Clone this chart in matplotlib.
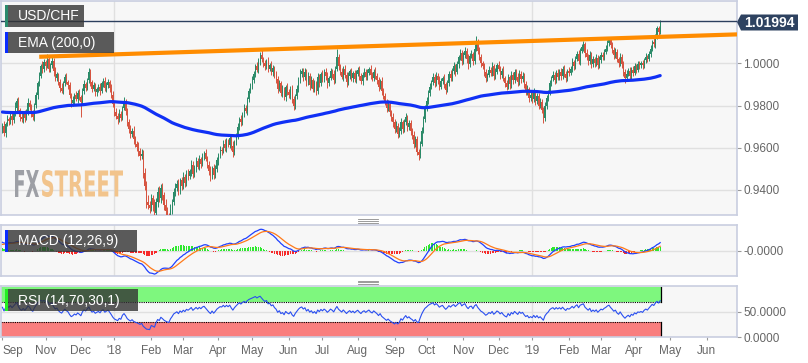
import numpy as np
import pandas as pd
import matplotlib
matplotlib.use('Agg')
import matplotlib.pyplot as plt
from matplotlib.patches import Rectangle, Polygon, PathPatch
from matplotlib.textpath import TextPath
from matplotlib.font_manager import FontProperties
from matplotlib.transforms import Affine2D
from matplotlib.lines import Line2D

plt.rcParams['font.family'] = ['Liberation Sans', 'DejaVu Sans']

W, H = 808, 363

# USD/CHF daily closes (x 10000), 25 Sep 2017 .. 23 Apr 2019
closes = [
    9705, 9668, 9712, 9738, 9725, 9752, 9731, 9760, 9790, 9822, 9780, 9748, 9735, 9762, 9741, 9770, 9812, 9795, 9760, 9745,
    9802, 9850, 9905, 9940, 9985, 9972, 10005, 9988, 10020, 9975, 9990, 10010, 9962, 9930, 9948, 9910, 9885, 9870, 9905, 9935,
    9912, 9895, 9850, 9812, 9825, 9848, 9832, 9860, 9840, 9815, 9870, 9902, 9885, 9920, 9958, 9912, 9880, 9895, 9862, 9878,
    9890, 9870, 9905, 9915, 9882, 9898, 9912, 9885, 9850, 9805, 9770, 9752, 9735, 9760, 9742, 9790, 9812, 9775, 9720, 9690,
    9665, 9680, 9640, 9620, 9605, 9585, 9560, 9570, 9480, 9420, 9345, 9330, 9315, 9360, 9330, 9290, 9345, 9390, 9360, 9410,
    9375, 9330, 9300, 9275, 9260, 9310, 9345, 9390, 9410, 9430, 9395, 9445, 9420, 9460, 9435, 9480, 9465, 9490, 9520, 9475,
    9505, 9535, 9510, 9545, 9525, 9560, 9575, 9548, 9520, 9490, 9465, 9505, 9470, 9500, 9540, 9565, 9590, 9585, 9620, 9600,
    9632, 9615, 9645, 9610, 9580, 9625, 9660, 9700, 9735, 9720, 9760, 9790, 9775, 9830, 9870, 9895, 9920, 9950, 9985, 9970,
    10010, 10040, 10020, 10000, 9985, 10012, 9975, 9990, 9960, 9978, 9945, 9925, 9880, 9905, 9860, 9875, 9840, 9890, 9865, 9850,
    9880, 9830, 9800, 9845, 9880, 9920, 9950, 9965, 9935, 9960, 9910, 9940, 9895, 9920, 9880, 9905, 9870, 9935, 9905, 9950,
    9925, 9960, 9940, 9905, 9930, 9965, 9948, 9920, 9975, 10030, 9985, 9960, 9935, 9975, 9945, 9910, 9940, 9962, 9930, 9955,
    9925, 9950, 9970, 9940, 9915, 9945, 9960, 9935, 9955, 9972, 9945, 9930, 9960, 9940, 9920, 9890, 9915, 9870, 9845, 9820,
    9790, 9805, 9770, 9745, 9720, 9690, 9705, 9665, 9680, 9720, 9690, 9720, 9745, 9700, 9715, 9680, 9660, 9620, 9640, 9580,
    9565, 9620, 9680, 9735, 9790, 9820, 9860, 9890, 9910, 9935, 9905, 9940, 9920, 9890, 9915, 9930, 9900, 9875, 9905, 9950,
    9930, 9965, 9985, 9960, 9995, 10030, 10050, 10010, 10040, 10060, 10020, 9995, 10035, 10045, 10010, 10070, 10100, 10060, 10030, 10000,
    9985, 9960, 9930, 9945, 9970, 9955, 9985, 9940, 9960, 9990, 9975, 9945, 9965, 9930, 9905, 9890, 9935, 9900, 9945, 9920,
    9960, 9935, 9910, 9950, 9925, 9940, 9900, 9865, 9880, 9835, 9850, 9830, 9860, 9820, 9845, 9800, 9815, 9780, 9740, 9800,
    9835, 9860, 9905, 9930, 9945, 9920, 9955, 9935, 9960, 9940, 9975, 9950, 9930, 9965, 9955, 9975, 10005, 9985, 10020, 10045,
    10010, 10060, 10075, 10090, 10050, 10030, 10010, 10040, 9995, 10020, 10000, 10025, 9990, 10015, 10040, 10030, 10055, 10070, 10095, 10110,
    10085, 10065, 10040, 10055, 10020, 10000, 10030, 9995, 9960, 9930, 9950, 9965, 9940, 9970, 9955, 9985, 9970, 9995, 9990, 10000,
    9990, 10015, 10030, 10020, 10045, 10070, 10100, 10090, 10130, 10165, 10150, 10199.4,
]
first_open = 9690

# wick lengths in pips above / below the candle body
up_wick = [
    14, 22, 11, 18, 9, 20, 13, 16, 25, 12, 18, 10, 21, 8, 17, 13, 24, 15, 11, 19,
    9, 16, 12, 21, 14, 26, 17, 10, 24, 13, 11, 19, 15, 22, 12, 8, 17, 20, 13, 16,
    21, 11, 15, 9, 18, 13, 20, 12, 16, 10, 14, 19, 11, 12, 19, 16, 10, 18, 14, 12,
    13, 17, 10, 15, 21, 12, 14, 9, 16, 20, 13, 18, 11, 22, 15, 10, 28, 17, 12, 15,
    18, 14, 22, 16, 12, 20, 15, 24, 19, 26, 21, 30, 17, 23, 18, 27, 16, 22, 29, 20,
    24, 17, 28, 20, 15, 22, 13, 19, 25, 16, 21, 12, 18, 23, 14, 17, 20, 11, 24, 15,
    12, 19, 16, 22, 13, 17, 10, 21, 15, 18, 24, 11, 16, 20, 14, 9, 19, 13, 17, 22,
    15, 11, 18, 14, 20, 12, 9, 16, 13, 19, 11, 17, 14, 10, 15, 12, 18, 13, 11, 20,
    16, 14, 21, 12, 18, 10, 17, 13, 22, 15, 11, 19, 14, 16, 12, 20, 13, 9, 17, 15,
    12, 18, 14, 10, 16, 13, 21, 15, 11, 19, 14, 17, 12, 20, 10, 16, 13, 18, 15, 11,
    19, 13, 16, 21, 12, 15, 10, 18, 14, 37, 16, 12, 19, 11, 17, 14, 20, 13, 15, 10,
    14, 17, 11, 19, 15, 12, 20, 13, 16, 10, 18, 14, 11, 21, 15, 17, 12, 19, 14, 16,
    13, 20, 15, 11, 18, 14, 22, 12, 17, 19, 13, 16, 21, 10, 15, 18, 12, 20, 14, 17,
    15, 11, 18, 14, 12, 20, 13, 16, 10, 19, 14, 17, 12, 21, 15, 11, 18, 13, 16, 12,
    17, 14, 20, 12, 16, 11, 19, 15, 13, 18, 12, 22, 14, 16, 10, 20, 28, 13, 17, 15,
    12, 18, 15, 11, 17, 13, 20, 14, 16, 10, 19, 13, 15, 21, 12, 17, 14, 11, 18, 16,
    14, 11, 19, 16, 13, 20, 12, 17, 15, 10, 18, 14, 21, 12, 16, 13, 19, 15, 11, 17,
    16, 13, 18, 12, 20, 14, 11, 17, 15, 19, 12, 16, 13, 10, 18, 14, 21, 12, 16, 13,
    19, 12, 15, 16, 13, 18, 14, 20, 12, 16, 11, 17, 14, 19, 13, 15, 12, 18, 14, 16,
    13, 17, 12, 19, 15, 11, 18, 14, 16, 12, 20, 13, 17, 11, 15, 18, 12, 16, 14, 10,
    15, 12, 17, 11, 14, 16, 12, 18, 10, 13, 11, 6,
]
dn_wick = [
    20, 14, 18, 11, 16, 12, 22, 15, 10, 17, 13, 19, 12, 16, 21, 11, 14, 18, 13, 15,
    16, 12, 19, 14, 10, 17, 13, 21, 11, 18, 15, 12, 20, 14, 16, 13, 22, 11, 17, 14,
    12, 18, 15, 21, 13, 16, 11, 19, 14, 70, 12, 17, 15, 11, 13, 20, 14, 12, 18, 16,
    14, 19, 12, 16, 11, 17, 13, 20, 15, 12, 18, 14, 21, 13, 16, 11, 12, 19, 15, 22,
    17, 13, 20, 15, 19, 22, 16, 14, 25, 20, 28, 18, 24, 16, 30, 22, 19, 25, 17, 21,
    20, 26, 18, 23, 30, 17, 22, 15, 19, 14, 21, 16, 18, 13, 20, 15, 17, 12, 22, 16,
    14, 18, 12, 16, 20, 13, 17, 11, 15, 19, 22, 14, 18, 12, 16, 20, 13, 17, 11, 15,
    18, 13, 16, 20, 22, 15, 12, 17, 14, 19, 13, 16, 11, 18, 14, 12, 17, 13, 15, 11,
    14, 17, 12, 16, 19, 13, 18, 11, 15, 20, 14, 17, 21, 13, 16, 19, 12, 18, 14, 16,
    17, 20, 23, 15, 12, 14, 11, 16, 19, 13, 17, 15, 20, 12, 18, 14, 21, 13, 16, 12,
    15, 12, 18, 20, 14, 11, 16, 19, 13, 12, 17, 14, 11, 18, 15, 21, 12, 16, 14, 17,
    13, 16, 12, 18, 14, 17, 11, 15, 13, 12, 19, 14, 16, 12, 17, 20, 14, 18, 16, 19,
    21, 15, 18, 17, 20, 22, 14, 19, 16, 13, 18, 15, 12, 20, 16, 19, 17, 22, 14, 16,
    23, 14, 12, 11, 13, 16, 12, 15, 14, 11, 17, 13, 16, 18, 12, 14, 17, 19, 13, 11,
    16, 12, 14, 18, 11, 15, 13, 19, 12, 14, 17, 20, 13, 11, 16, 12, 14, 18, 15, 17,
    14, 18, 20, 13, 12, 16, 14, 19, 15, 11, 13, 18, 14, 16, 19, 17, 12, 20, 15, 18,
    12, 16, 19, 14, 17, 13, 18, 15, 16, 20, 14, 17, 13, 19, 15, 18, 14, 17, 24, 12,
    15, 13, 11, 14, 12, 17, 13, 16, 14, 18, 12, 15, 19, 13, 16, 12, 14, 17, 13, 11,
    14, 16, 12, 15, 18, 13, 17, 14, 19, 13, 16, 12, 18, 14, 12, 15, 13, 11, 14, 12,
    13, 15, 18, 14, 16, 19, 13, 17, 20, 21, 15, 12, 17, 13, 16, 12, 14, 11, 15, 13,
    16, 12, 14, 13, 11, 15, 12, 13, 16, 14, 17, 13,
]
if not (len(closes) == len(up_wick) == len(dn_wick)):
    raise SystemExit(f"lengths {len(closes)} {len(up_wick)} {len(dn_wick)}")

# indicator state carried in from before the visible window
ema200_seed = 0.9770
ema12_seed, ema26_seed, signal_seed = 0.9675, 0.9630, 0.0030
rsi_gain_seed, rsi_loss_seed = 0.0012, 0.0009

# resistance line drawn on the chart (bar index, price)
trend_x = [23, 459]
trend_y = [1.0031, 1.0137]
last_price = 1.01994

tick_starts = ['2017-09-25', '2017-11-01', '2017-12-01', '2018-01-01', '2018-02-01', '2018-03-01',
               '2018-04-01', '2018-05-01', '2018-06-01', '2018-07-01', '2018-08-01', '2018-09-01',
               '2018-10-01', '2018-11-01', '2018-12-01', '2019-01-01', '2019-02-01', '2019-03-01',
               '2019-04-01', '2019-05-01', '2019-06-01']
tick_labels = ['Sep', 'Nov', 'Dec', "'18", 'Feb', 'Mar', 'Apr', 'May', 'Jun', 'Jul', 'Aug', 'Sep',
               'Oct', 'Nov', 'Dec', "'19", 'Feb', 'Mar', 'Apr', 'May', 'Jun']
year_starts = ['2018-01-01', '2019-01-01']

# ---- derived series
c = np.array(closes, dtype=float) / 1e4
o = np.r_[first_open / 1e4, c[:-1]]
hi = np.maximum(o, c) + np.array(up_wick) / 1e4
lo = np.minimum(o, c) - np.array(dn_wick) / 1e4
x = np.arange(len(c))

ema200 = pd.Series(np.r_[ema200_seed, c]).ewm(span=200, adjust=False).mean().values[1:]
ema12 = pd.Series(np.r_[ema12_seed, c]).ewm(span=12, adjust=False).mean().values[1:]
ema26 = pd.Series(np.r_[ema26_seed, c]).ewm(span=26, adjust=False).mean().values[1:]
macd = ema12 - ema26
signal = pd.Series(np.r_[signal_seed, macd]).ewm(span=9, adjust=False).mean().values[1:]
hist = macd - signal

delta = np.diff(c, prepend=first_open / 1e4)
avg_gain = pd.Series(np.r_[rsi_gain_seed, np.clip(delta, 0, None)]).ewm(alpha=1/14, adjust=False).mean().values[1:]
avg_loss = pd.Series(np.r_[rsi_loss_seed, np.clip(-delta, 0, None)]).ewm(alpha=1/14, adjust=False).mean().values[1:]
rsi = 100 - 100 / (1 + avg_gain / avg_loss)

axis_days = pd.bdate_range('2017-09-25', '2019-07-31')
tick_pos = axis_days.searchsorted(pd.to_datetime(tick_starts))
year_pos = axis_days.searchsorted(pd.to_datetime(year_starts))

# ---- figure
fig = plt.figure(figsize=(W / 100, H / 100), dpi=100)
fig.patch.set_facecolor('white')

def axes_px(top, bottom, left=0.5, right=737):
    return fig.add_axes([left / W, 1 - bottom / H, (right - left) / W, (bottom - top) / H])

ax = axes_px(1, 215)
axm = axes_px(225, 276)
axr = axes_px(286, 337)

XL = (-1.2, 459)
face = '#f7f7f7'
spine = '#c9cee0'
gridc = '#e0e0e0'
tcol = '#666666'
for a in (ax, axm, axr):
    a.set_facecolor(face)
    a.set_xlim(*XL)
    for s in a.spines.values():
        s.set_color(spine)
        s.set_linewidth(1.2)
    a.yaxis.tick_right()
    a.tick_params(axis='y', length=3, width=0.8, color='#999999', pad=1.5,
                  labelsize=8.5, labelcolor=tcol)
    a.set_xticks([])
    for yp in year_pos:
        a.axvline(yp, color=gridc, lw=1, zorder=0)

# main price panel
ax.set_ylim(0.92816, 1.02951)
ax.set_yticks([0.94, 0.96, 0.98, 1.00])
ax.set_yticklabels([f'{v:.4f}' for v in [0.94, 0.96, 0.98, 1.00]])
for v in [0.94, 0.96, 0.98, 1.00]:
    ax.axhline(v, color=gridc, lw=1, zorder=0)

green, red = '#2a8a68', '#d6533f'
cols = np.where(c >= o, green, red)
ax.vlines(x, lo, hi, colors=cols, lw=0.7, zorder=3)
ax.bar(x, np.maximum(np.abs(c - o), 0.0002), bottom=np.minimum(o, c), width=0.7,
       color=cols, linewidth=0, zorder=3)
ax.plot(x, ema200, color='#1030f5', lw=2.3, zorder=4, solid_capstyle='round')
ax.plot(trend_x, trend_y, color='#ff8c00', lw=3, zorder=5, solid_capstyle='butt')
ax.axhline(last_price, color='#2c3f5e', lw=1, zorder=5)

# FXSTREET watermark, squeezed into its box
fp = FontProperties(family='DejaVu Sans', weight='bold')
def squeeze(s, x0, x1, y0, y1, color):
    tp = TextPath((0, 0), s, size=10, prop=fp)
    bb = tp.get_extents()
    tr = (Affine2D().translate(-bb.x0, -bb.y0)
          .scale((x1 - x0) / bb.width, (y1 - y0) / bb.height)
          .translate(x0, H - y1).scale(1 / W, 1 / H) + fig.transFigure)
    p = PathPatch(tp, transform=tr, facecolor=color, edgecolor='none', zorder=1)
    ax.add_patch(p)
squeeze('FX', 15, 39, 170, 197, '#9d9fa5')
squeeze('STREET', 42, 123, 170, 197, '#f2c48c')

# MACD panel
m = 1.08 * np.max(np.abs(np.r_[macd, signal]))
axm.set_ylim(-m, m)
axm.set_yticks([0.0])
axm.set_yticklabels(['-0.0000'])
axm.axhline(0, color=gridc, lw=1, zorder=0)
axm.bar(x, hist, width=0.7, color=np.where(hist >= 0, '#2ee82e', '#f72a2a'), linewidth=0, zorder=2)
axm.plot(x, macd, color='#2040ff', lw=0.9, zorder=3)
axm.plot(x, signal, color='#ff7a1a', lw=0.9, zorder=3)

# RSI panel
axr.set_ylim(0, 102)
axr.set_yticks([0, 50])
axr.set_yticklabels(['0.0000', '50.0000'])
axr.axhline(50, color=gridc, lw=1, zorder=0)
xe = x[-1] + 0.4
axr.fill_between([XL[0], xe], 70, 100, color='#7ef77e', lw=0, zorder=1)
axr.fill_between([XL[0], xe], 0, 30, color='#f97e7e', lw=0, zorder=1)
axr.plot([XL[0], xe], [70, 70], color='black', lw=0.8, ls=(0, (1, 1)), zorder=2)
axr.plot([XL[0], xe], [30, 30], color='black', lw=0.8, ls=(0, (1, 1)), zorder=2)
axr.plot([xe, xe], [70, 100], color='black', lw=0.9, zorder=2)
axr.plot([xe, xe], [0, 30], color='black', lw=0.9, zorder=2)
axr.plot(x, rsi, color='#2a4ff0', lw=0.8, zorder=3)

axr.set_xticks(tick_pos)
axr.set_xticklabels(tick_labels)
axr.tick_params(axis='x', length=2.5, width=0.8, color='#999999', pad=3,
                labelsize=8.5, labelcolor=tcol)
axr.get_xticklabels()[0].set_horizontalalignment('left')

# ---- overlay boxes in pixel coordinates (origin top-left)
def fpt(px, py):
    return (px / W, 1 - py / H)

def label_box(x0, y0, x1, y1, accent, text):
    fig.add_artist(Rectangle(fpt(x0, y1), (x1 - x0) / W, (y1 - y0) / H,
                             transform=fig.transFigure, facecolor='#333333',
                             alpha=0.8, edgecolor='none', zorder=10))
    fig.add_artist(Rectangle(fpt(x0, y1), 2.5 / W, (y1 - y0) / H,
                             transform=fig.transFigure, facecolor=accent,
                             edgecolor='none', zorder=11))
    fig.text(*fpt(x0 + 13, (y0 + y1) / 2 + 0.5), text, color='white', fontsize=10,
             va='center', ha='left', zorder=12)

label_box(5, 5, 84, 27, '#2b8a6c', 'USD/CHF')
label_box(5, 32, 114, 53, '#0a2cff', 'EMA (200,0)')
label_box(5, 230, 137, 252, '#0a2cff', 'MACD (12,26,9)')
label_box(5, 289, 138, 311, '#22ee22', 'RSI (14,70,30,1)')

# last price tag
tag = [fpt(737, 22), fpt(741, 14.5), fpt(798, 14.5), fpt(798, 30.5), fpt(741, 30.5)]
fig.add_artist(Polygon(tag, closed=True, transform=fig.transFigure,
                       facecolor='#2e4260', edgecolor='none', zorder=10))
fig.text(*fpt(769.5, 23), f'{last_price:.5f}', color='white', fontsize=10,
         fontweight='bold', ha='center', va='center', zorder=11)

# panel resize grips
for gy in (219.5, 280.5):
    for k in range(3):
        yy = 1 - (gy + 1.5 * k) / H
        fig.add_artist(Line2D([358 / W, 378 / W], [yy, yy], color='#8a8a8a', lw=0.6,
                              transform=fig.transFigure, zorder=10))

fig.savefig('out.png', dpi=100, facecolor='white')
